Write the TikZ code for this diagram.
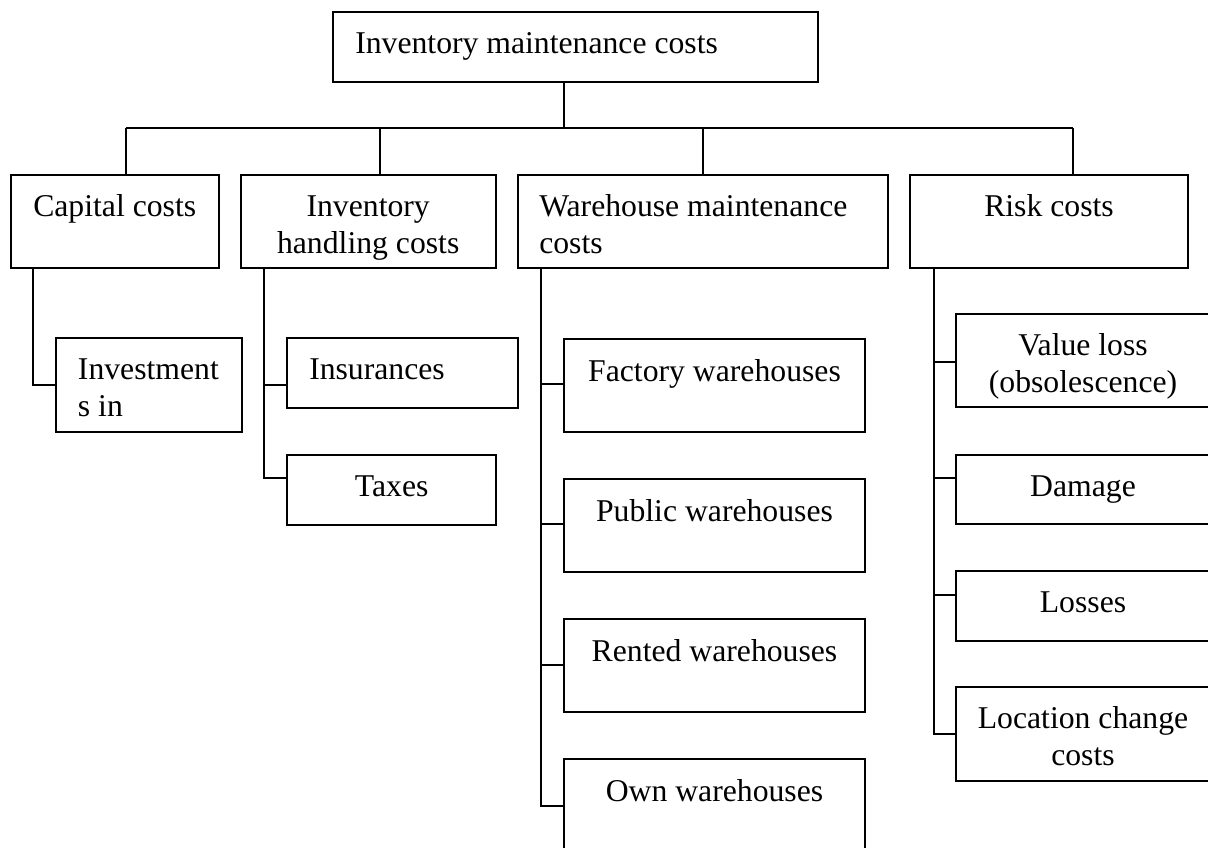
\documentclass[tikz,border=0pt]{standalone}
\usepackage{fontspec}
\setmainfont{Liberation Serif}
\usetikzlibrary{fit}
\begin{document}
\begin{tikzpicture}[x=0.5pt,y=-0.5pt,
  line width=0.95pt,
  box/.style={draw, rectangle, inner sep=0pt, outer sep=0pt},
  lbl/.style={inner sep=0pt, font=\fontsize{15.85pt}{18.25pt}\selectfont},
  ctr/.style={lbl, anchor=north, align=center},
  lft/.style={lbl, anchor=north west, align=left}]
\useasboundingbox (0,0) rectangle (1208,847);
\clip (0,0) rectangle (1208,847);

% boxes
\node[box, fit={(333.3,11.7) (818.3,81.7)}]   (top)  {};
\node[box, fit={(10.7,175) (218.7,268.3)}]    (cap)  {};
\node[box, fit={(240.7,175) (495.7,268.3)}]   (inh)  {};
\node[box, fit={(518.3,175) (887.7,268.3)}]   (whm)  {};
\node[box, fit={(910.3,175) (1187.7,268.3)}]  (risk) {};
\node[box, fit={(56,338.3) (241.7,431.7)}]    (inv)  {};
\node[box, fit={(287.3,338.3) (518.3,408.3)}] (ins)  {};
\node[box, fit={(287.3,455) (496,525)}]       (tax)  {};
\node[box, fit={(564,339) (865,432)}]         (fac)  {};
\node[box, fit={(564,479) (865,571.7)}]       (pub)  {};
\node[box, fit={(564,619) (865,712)}]         (ren)  {};
\node[box, fit={(564,759) (865,852)}]         (own)  {};
\node[box, fit={(956,314) (1210,407)}]        (val)  {};
\node[box, fit={(956,455) (1210,524)}]        (dam)  {};
\node[box, fit={(956,571) (1210,641)}]        (los)  {};
\node[box, fit={(956,687) (1210,781)}]        (loc)  {};

% labels
\node[lft] (topT) at ([xshift=10.5pt,yshift=-7.5pt]top.north west) {\strut Inventory maintenance costs};
\node[ctr] (capT) at ([yshift=-7.5pt]cap.north) {\strut Capital costs};
\node[ctr] (inhT) at ([yshift=-7.5pt]inh.north) {\strut Inventory\\handling costs};
\node[lft] (whmT) at ([xshift=10pt,yshift=-7.5pt]whm.north west) {\strut Warehouse maintenance\\costs};
\node[ctr] (riskT) at ([yshift=-7.5pt]risk.north) {\strut Risk costs};
\node[lft] (invT) at ([xshift=10.5pt,yshift=-7.5pt]inv.north west) {\strut Investment\\s in};
\node[lft] (insT) at ([xshift=10.5pt,yshift=-7.5pt]ins.north west) {\strut Insurances};
\node[ctr] (taxT) at ([yshift=-7.5pt]tax.north) {\strut Taxes};
\node[ctr] (facT) at ([yshift=-8pt]fac.north) {\strut Factory warehouses};
\node[ctr] (pubT) at ([yshift=-8pt]pub.north) {\strut Public warehouses};
\node[ctr] (renT) at ([yshift=-8pt]ren.north) {\strut Rented warehouses};
\node[ctr] (ownT) at ([yshift=-8pt]own.north) {\strut Own warehouses};
\node[ctr] (valT) at ([yshift=-7.5pt]val.north) {\strut Value loss\\(obsolescence)};
\node[ctr] (damT) at ([yshift=-7.5pt]dam.north) {\strut Damage};
\node[ctr] (losT) at ([yshift=-7.5pt]los.north) {\strut Losses};
\node[ctr] (locT) at ([yshift=-7.5pt]loc.north) {\strut Location change\\costs};

% top level connectors
\coordinate (hub) at (564.3,128.3);
\coordinate (d1) at (126,128.3);
\coordinate (d2) at (380,128.3);
\coordinate (d3) at (702.7,128.3);
\coordinate (d4) at (1072.7,128.3);
\draw (top.south -| hub) -- (hub);
\draw (d1) -- (d4);
\draw (d1) -- (cap.north -| d1);
\draw (d2) -- (inh.north -| d2);
\draw (d3) -- (whm.north -| d3);
\draw (d4) -- (risk.north -| d4);

% capital costs branch
\coordinate (c1) at (33.3,385);
\draw (cap.south -| c1) |- (inv.west |- c1);

% inventory handling branch
\coordinate (i1) at (264.3,385);
\coordinate (i2) at (264.3,478.3);
\draw (inh.south -| i2) |- (tax.west |- i2);
\draw (i1) -- (ins.west |- i1);

% warehouse branch
\coordinate (w1) at (541,384);
\coordinate (w2) at (541,524);
\coordinate (w3) at (541,665);
\coordinate (w4) at (541,805.7);
\draw (whm.south -| w4) |- (own.west |- w4);
\draw (w1) -- (fac.west |- w1);
\draw (w2) -- (pub.west |- w2);
\draw (w3) -- (ren.west |- w3);

% risk branch
\coordinate (r1) at (934,362.3);
\coordinate (r2) at (934,478.3);
\coordinate (r3) at (934,595);
\coordinate (r4) at (934,734);
\draw (risk.south -| r4) |- (loc.west |- r4);
\draw (r1) -- (val.west |- r1);
\draw (r2) -- (dam.west |- r2);
\draw (r3) -- (los.west |- r3);
\end{tikzpicture}
\end{document}
